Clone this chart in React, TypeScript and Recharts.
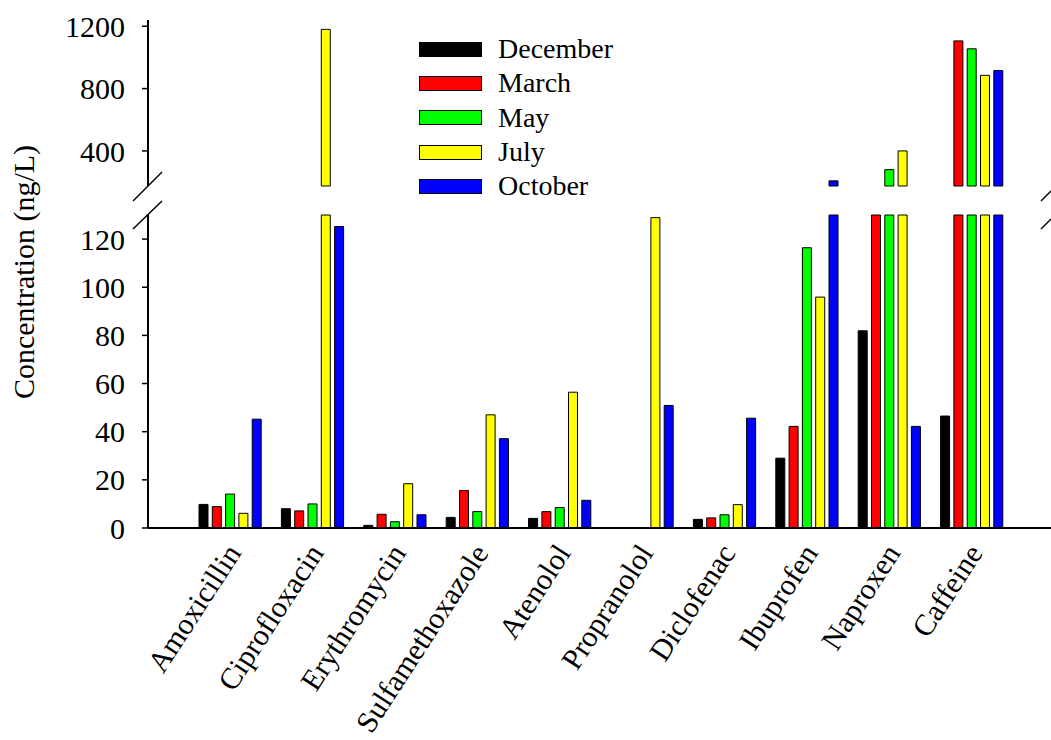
import React from "react";
import { BarChart, Bar, XAxis, YAxis, Legend } from "recharts";

const compounds = [
  "Amoxicillin",
  "Ciprofloxacin",
  "Erythromycin",
  "Sulfamethoxazole",
  "Atenolol",
  "Propranolol",
  "Diclofenac",
  "Ibuprofen",
  "Naproxen",
  "Caffeine",
];

const december = [9.8, 8.0, 1.1, 4.4, 4.0, null, 3.6, 29.0, 81.9, 46.5];
const march = [8.9, 7.1, 5.7, 15.6, 6.8, null, 4.2, 42.2, 150, 1106];
const may = [14.1, 10.0, 2.6, 6.8, 8.5, null, 5.5, 116.4, 280, 1055];
const july = [6.1, 1180, 18.4, 47.0, 56.4, 128.9, 9.7, 95.9, 400, 885];
const october = [45.2, 125.2, 5.5, 37.1, 11.5, 50.9, 45.6, 208, 42.2, 916];

const lowerTicks = [0, 20, 40, 60, 80, 100, 120];
const upperTicks = [400, 800, 1200];
const lowerDomain: [number, number] = [0, 130];
const upperDomain: [number, number] = [175, 1240];

const series = [
  { key: "December", values: december, color: "#000000" },
  { key: "March", values: march, color: "#ff0000" },
  { key: "May", values: may, color: "#00ff00" },
  { key: "July", values: july, color: "#ffff00" },
  { key: "October", values: october, color: "#0000ff" },
];

// the axis is broken: bottom panel shows 0-130, top panel 175-1240
const lowerData = compounds.map((name, i) => {
  const row: Record<string, any> = { name };
  series.forEach((s) => {
    const v = s.values[i];
    row[s.key] = v == null ? null : Math.min(v, lowerDomain[1]);
  });
  return row;
});

const upperData = compounds.map((name, i) => {
  const row: Record<string, any> = { name };
  series.forEach((s) => {
    const v = s.values[i];
    row[s.key] = v != null && v > upperDomain[0] ? v : null;
  });
  return row;
});

const FONT = "'Liberation Serif', 'Times New Roman', serif";
const tickStyle = { fill: "#000", fontSize: 30, fontFamily: FONT, style: { fontFamily: FONT } };
const axisLine = { stroke: "#000", strokeWidth: 2 };
const xPadding = { left: 41, right: 38 };

function AngledTick(props: any) {
  const { x, y, payload } = props;
  const tx = x + 12;
  const ty = y + 25;
  return (
    <text
      x={tx}
      y={ty}
      transform={`rotate(-57, ${tx}, ${ty})`}
      textAnchor="end"
      style={{ fontFamily: FONT, fontSize: 30 }}
      fill="#000"
    >
      {payload.value}
    </text>
  );
}

function MonthLegend() {
  return (
    <div style={{ fontFamily: FONT, fontSize: 28, color: "#000" }}>
      {series.map((s) => (
        <div key={s.key} style={{ display: "flex", alignItems: "center", height: 34.3, lineHeight: "30px" }}>
          <span
            style={{
              display: "inline-block",
              width: 61,
              height: 13,
              background: s.color,
              border: "1px solid #000",
              marginRight: 16,
            }}
          />
          <span>{s.key}</span>
        </div>
      ))}
    </div>
  );
}

function renderBars() {
  return series.map((s) => (
    <Bar
      key={s.key}
      dataKey={s.key}
      fill={s.color}
      stroke="#000"
      strokeWidth={1}
      isAnimationActive={false}
    />
  ));
}

export default function App() {
  return (
    <div style={{ position: "absolute", left: 0, top: 0, width: 1051, height: 740, background: "#fff" }}>
      <div style={{ position: "absolute", left: 0, top: 0 }}>
        <BarChart
          width={1051}
          height={200}
          data={upperData}
          margin={{ top: 20, right: 0, bottom: 14, left: 0 }}
          barSize={9}
          barGap={4.3}
        >
          <XAxis
            dataKey="name"
            orientation="top"
            height={0}
            tick={false}
            tickLine={false}
            axisLine={{ stroke: "#333", strokeWidth: 1.5 }}
            padding={xPadding}
          />
          <YAxis
            width={148}
            domain={upperDomain}
            ticks={upperTicks}
            interval={0}
            tick={tickStyle}
            tickSize={6}
            tickMargin={17}
            tickLine={{ stroke: "#000", strokeWidth: 1.5 }}
            axisLine={axisLine}
          />
          {renderBars()}
          <Legend
            layout="vertical"
            align="center"
            verticalAlign="middle"
            content={<MonthLegend />}
            wrapperStyle={{ left: 419, top: 32, width: 250, height: 180 }}
          />
        </BarChart>
      </div>
      <div style={{ position: "absolute", left: 0, top: 0 }}>
        <BarChart
          width={1051}
          height={740}
          data={lowerData}
          margin={{ top: 215, right: 0, bottom: 0, left: 0 }}
          barSize={9}
          barGap={4.3}
        >
          <XAxis
            dataKey="name"
            height={212}
            interval={0}
            tick={<AngledTick />}
            tickLine={false}
            tickSize={0}
            tickMargin={0}
            axisLine={axisLine}
            padding={xPadding}
          />
          <YAxis
            width={148}
            domain={lowerDomain}
            ticks={lowerTicks}
            interval={0}
            tick={tickStyle}
            tickSize={6}
            tickMargin={17}
            tickLine={{ stroke: "#000", strokeWidth: 1.5 }}
            axisLine={axisLine}
          />
          {renderBars()}
        </BarChart>
      </div>
      <svg
        width={1051}
        height={740}
        style={{ position: "absolute", left: 0, top: 0, pointerEvents: "none" }}
      >
        <g stroke="#000" strokeWidth={1.5}>
          <line x1={133} y1={201} x2={162} y2={172} />
          <line x1={133} y1={229} x2={162} y2={201} />
          <line x1={1041} y1={201} x2={1051} y2={191} />
          <line x1={1041} y1={229} x2={1051} y2={219} />
        </g>
        <text
          x={34}
          y={272}
          transform="rotate(-90, 34, 272)"
          textAnchor="middle"
          style={{ fontFamily: FONT, fontSize: 30 }}
          fill="#000"
        >
          Concentration (ng/L)
        </text>
      </svg>
    </div>
  );
}
